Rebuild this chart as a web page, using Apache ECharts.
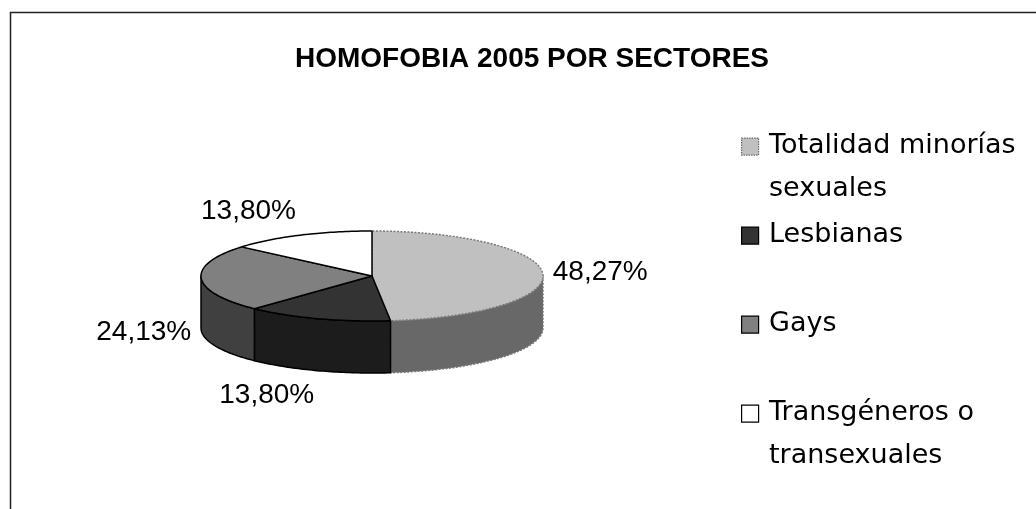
<!DOCTYPE html>
<html>
<head>
<meta charset="utf-8">
<script src="https://cdn.jsdelivr.net/npm/echarts@6/dist/echarts.min.js"></script>
<style>
html,body{margin:0;padding:0;background:#fff;}
#chart{width:1036px;height:509px;}
</style>
</head>
<body>
<div id="chart"></div>
<script>
// ---- data ----
const chartTitle = 'HOMOFOBIA 2005 POR SECTORES';
const categories = ['Totalidad minorías sexuales', 'Lesbianas', 'Gays', 'Transgéneros o transexuales'];
const legendLabels = ['Totalidad minorías\nsexuales', 'Lesbianas', 'Gays', 'Transgéneros o\ntransexuales'];
const values = [48.27, 13.80, 24.13, 13.80];

// ---- styles ----
const topColors = ['#C0C0C0', '#333333', '#808080', '#FFFFFF'];
const sideColors = ['#686868', '#1C1C1C', '#404040', '#E0E0E0'];
const strokeColors = ['#7A7A7A', '#000000', '#000000', '#000000'];
const strokeDash = [[2, 1.5], null, null, null];

// ---- 3D pie geometry ----
const cx = 372, cy = 276, rx = 171, ry = 45, depth = 52;
const labelFont = '28px "Liberation Sans", Arial, sans-serif';
const total = values.reduce((a, b) => a + b, 0);

function pt(t, dy) {
  return [cx + rx * Math.sin(t), cy - ry * Math.cos(t) + dy];
}
function arc(a, b, dy) {
  const pts = [];
  const n = Math.max(2, Math.ceil(Math.abs(b - a) / (Math.PI / 180)));
  for (let k = 0; k <= n; k++) pts.push(pt(a + (b - a) * k / n, dy));
  return pts;
}
function fmt(v) { return v.toFixed(2).replace('.', ',') + '%'; }

function renderItem(params, api) {
  const i = params.dataIndex;
  const v = api.value(0);
  let start = 0;
  for (let j = 0; j < i; j++) start += values[j];
  const a1 = start / total * Math.PI * 2;
  const a2 = (start + v) / total * Math.PI * 2;
  const children = [];
  const stroke = {
    stroke: strokeColors[i], lineWidth: 1.5,
    lineDash: strokeDash[i] || null, lineJoin: 'round'
  };
  // side wall (front half only)
  const s1 = Math.max(a1, Math.PI / 2), s2 = Math.min(a2, Math.PI * 1.5);
  if (s1 < s2) {
    const pts = arc(s1, s2, 0).concat(arc(s2, s1, depth));
    children.push({
      type: 'polygon', z2: 1,
      shape: { points: pts },
      style: Object.assign({ fill: sideColors[i] }, stroke)
    });
  }
  // top face
  children.push({
    type: 'polygon', z2: 10,
    shape: { points: [[cx, cy]].concat(arc(a1, a2, 0)) },
    style: Object.assign({ fill: topColors[i] }, stroke)
  });
  // label
  const m = (a1 + a2) / 2;
  const sx = Math.sin(m), cs = Math.cos(m);
  const hw = 47.5, pad = 10, py = 26;
  const lx = cx + sx * (rx + pad) + (sx >= 0 ? hw : -hw);
  const ly = cy - cs * (ry + py) + (cs < 0 ? depth : 0);
  children.push({
    type: 'text', z2: 20,
    style: {
      text: fmt(v), x: lx, y: ly, align: 'center', verticalAlign: 'middle',
      font: labelFont, fill: '#000'
    }
  });
  return { type: 'group', children: children };
}

// ---- legend (built from categories) ----
const legendX = 741, legendTop = 146, legendStep = 89, lineH = 43;
const legendGraphics = [];
categories.forEach((c, i) => {
  const yc = legendTop + i * legendStep;
  legendGraphics.push({
    type: 'rect', left: legendX, top: yc - 8.5,
    shape: { width: 17, height: 17 },
    style: {
      fill: topColors[i], stroke: i === 0 ? '#6A6A6A' : '#000',
      lineWidth: 1.2, lineDash: i === 0 ? [1.5, 1] : null
    }
  });
  legendGraphics.push({
    type: 'text', left: legendX + 28, top: yc - lineH / 2,
    style: {
      text: legendLabels[i], font: '27px "DejaVu Sans", sans-serif',
      fill: '#000', lineHeight: lineH
    }
  });
});

const chart = echarts.init(document.getElementById('chart'));
chart.setOption({
  animation: false,
  backgroundColor: '#fff',
  title: {
    text: chartTitle, left: 290, top: 40,
    textStyle: { fontFamily: '"Liberation Sans", Arial, sans-serif', fontWeight: 'bold', fontSize: 28, color: '#000' }
  },
  graphic: [
    {
      type: 'rect', left: 8, top: 10, silent: true,
      shape: { width: 1100, height: 600 },
      style: { fill: 'none', stroke: '#222', lineWidth: 1.5 }
    }
  ].concat(legendGraphics),
  series: [{
    type: 'custom',
    coordinateSystem: 'none',
    renderItem: renderItem,
    data: values.map((v, i) => ({ name: categories[i], value: [v] }))
  }]
});
</script>
</body>
</html>
